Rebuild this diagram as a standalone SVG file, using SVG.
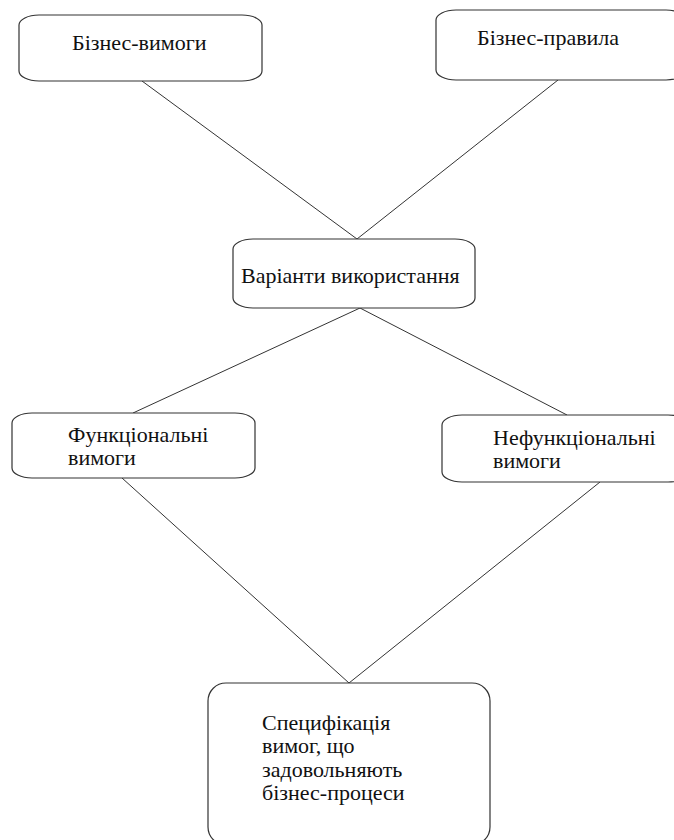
<svg xmlns="http://www.w3.org/2000/svg" width="674" height="840" viewBox="0 0 674 840">
  <style>
    .box { fill: #ffffff; stroke: #333333; stroke-width: 1.2; }
    .lbl { font-family: "Liberation Serif", Tinos, "Times New Roman", serif; font-size: 22px; fill: #111111; }
    .edge { stroke: #333333; stroke-width: 1; fill: none; }
  </style>
  <rect width="674" height="840" fill="#ffffff"/>

  <g id="connectors">
    <line class="edge" x1="142" y1="81" x2="357" y2="239"/>
    <line class="edge" x1="558" y1="80" x2="357" y2="239"/>
    <line class="edge" x1="360" y1="308" x2="133" y2="413"/>
    <line class="edge" x1="360" y1="308" x2="567" y2="415"/>
    <line class="edge" x1="122" y1="478" x2="349" y2="683"/>
    <line class="edge" x1="600" y1="482" x2="349" y2="683"/>
  </g>

  <g id="business-requirements">
    <rect class="box" x="19" y="15" width="243" height="66" rx="20" ry="10"/>
    <text class="lbl" x="72" y="50">Бізнес-вимоги</text>
  </g>

  <g id="business-rules">
    <rect class="box" x="436" y="10" width="250" height="70" rx="20" ry="10"/>
    <text class="lbl" x="477" y="45">Бізнес-правила</text>
  </g>

  <g id="use-cases">
    <rect class="box" x="233" y="239" width="242" height="69" rx="20" ry="10"/>
    <text class="lbl" x="241" y="283">Варіанти використання</text>
  </g>

  <g id="functional-requirements">
    <rect class="box" x="12" y="413" width="243" height="65" rx="20" ry="10"/>
    <text class="lbl" x="68" y="442">Функціональні</text>
    <text class="lbl" x="68" y="465">вимоги</text>
  </g>

  <g id="nonfunctional-requirements">
    <rect class="box" x="442" y="415" width="246" height="67" rx="20" ry="10"/>
    <text class="lbl" x="493" y="445">Нефункціональні</text>
    <text class="lbl" x="493" y="468">вимоги</text>
  </g>

  <g id="requirements-specification">
    <rect class="box" x="208" y="683" width="282" height="162" rx="18" ry="18"/>
    <text class="lbl" x="262" y="730">Специфікація</text>
    <text class="lbl" x="262" y="753">вимог, що</text>
    <text class="lbl" x="262" y="777">задовольняють</text>
    <text class="lbl" x="262" y="800">бізнес-процеси</text>
  </g>
</svg>
